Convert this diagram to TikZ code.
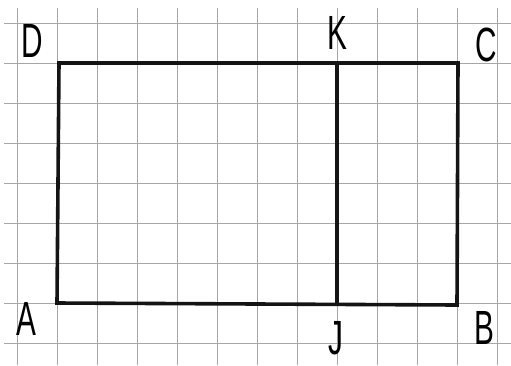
\documentclass[tikz,border=0pt]{standalone}
\usepackage{fontspec}
\setmainfont{Liberation Sans}
\begin{document}
\begin{tikzpicture}[x=1pt,y=-1pt,
  gridline/.style={draw=black!35,line width=0.9pt},
  edge/.style={draw=black!92,line width=3.6pt,line cap=round,line join=miter},
  lbl/.style={font=\fontsize{48}{48}\selectfont,inner sep=0pt,xscale=0.62,text=black}]
\useasboundingbox (0,0) rectangle (511,365);
\fill[white] (0,0) rectangle (511,365);
% graph paper
\foreach \i in {0,...,12} {\draw[gridline] (17+40*\i,8) -- (17+40*\i,365);}
\foreach \j in {0,...,8} {\draw[gridline] (4,23+40*\j) -- (511,23+40*\j);}
% corners
\coordinate (A) at (57,303);
\coordinate (B) at (457,305);
\coordinate (C) at (458,63);
\coordinate (D) at (59,63);
\coordinate (K) at (337,63);
\coordinate (J) at (337,304);
\draw[edge] (D) -- (C) -- (B) -- (A) -- cycle;
\draw[edge] (K) -- (J);
% labels
\node[lbl] (lD) at (32,41) {D};
\node[lbl] (lK) at (337,33) {K};
\node[lbl] (lC) at (486,45) {C};
\node[lbl] (lA) at (26,319) {A};
\node[lbl] (lJ) at (336,338) {J};
\node[lbl] (lB) at (484,328) {B};
\end{tikzpicture}
\end{document}
